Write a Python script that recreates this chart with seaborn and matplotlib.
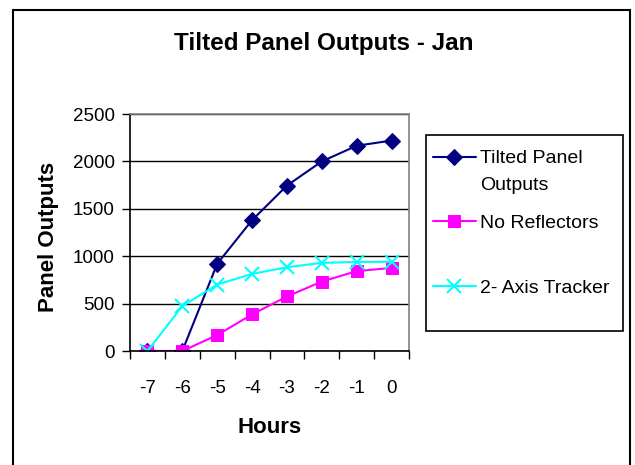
import matplotlib
matplotlib.use("Agg")
import matplotlib.pyplot as plt
from matplotlib.patches import Rectangle
from matplotlib.ticker import FixedLocator
import seaborn as sns
import pandas as pd

hours = [-7, -6, -5, -4, -3, -2, -1, 0]
tilted_panel = [0, 0, 920, 1380, 1745, 2000, 2165, 2220]
no_reflectors = [0, 0, 168, 386, 575, 733, 842, 877]
axis_tracker = [0, 473, 701, 813, 884, 929, 940, 940]
series_names = ["Tilted Panel Outputs", "No Reflectors", "2- Axis Tracker"]
y_ticks = [0, 500, 1000, 1500, 2000, 2500]

df = pd.DataFrame({
    "Hours": hours * 3,
    "Output": tilted_panel + no_reflectors + axis_tracker,
    "Series": [series_names[0]] * 8 + [series_names[1]] * 8 + [series_names[2]] * 8,
})

sns.set_theme(style="white")
plt.rcParams["font.family"] = ["Liberation Sans", "DejaVu Sans"]
plt.rcParams["text.color"] = "black"
plt.rcParams["xtick.color"] = "black"
plt.rcParams["ytick.color"] = "black"
plt.rcParams["axes.labelcolor"] = "black"

W, H = 635, 465
fig = plt.figure(figsize=(W / 100, H / 100), dpi=100)
fig.patch.set_facecolor("white")

# outer chart frame
fig.add_artist(Rectangle((13 / W, -0.05), (630 - 13) / W, 1.05 - 10 / H,
                         transform=fig.transFigure, fill=False,
                         edgecolor="black", linewidth=1.5))

ax = fig.add_axes([130 / W, 1 - 351 / H, (409 - 130) / W, (351 - 114) / H])

styles = {
    series_names[0]: dict(color="#000080", marker="D", markersize=8, markeredgecolor="#000080"),
    series_names[1]: dict(color="#FF00FF", marker="s", markersize=9, markeredgecolor="#FF00FF"),
    series_names[2]: dict(color="#00FFFF", marker="x", markersize=10, markeredgewidth=1.5,
                          markeredgecolor="#00FFFF"),
}
for name in series_names:
    sns.lineplot(data=df[df.Series == name], x="Hours", y="Output",
                 linewidth=1.5, ax=ax, label=name, **styles[name])

ax.set_xlim(-7.5, 0.5)
ax.set_ylim(0, 2500)
ax.set_yticks(y_ticks)
ax.set_yticklabels([str(v) for v in y_ticks], fontsize=13.5, color="black")
ax.set_xticks(hours)
ax.set_xticklabels([str(h) for h in hours], fontsize=13.5, color="black")
ax.xaxis.set_minor_locator(FixedLocator([h - 0.5 for h in hours] + [0.5]))
ax.tick_params(axis="x", which="major", length=0, pad=21, labelcolor="black")
ax.tick_params(axis="x", which="minor", length=6, width=1, color="black", direction="out", bottom=True)
ax.tick_params(axis="y", which="major", length=6, width=1, color="black", direction="out",
               left=True, pad=5, labelcolor="black")

ax.grid(axis="y", color="black", linewidth=1)
ax.grid(axis="x", visible=False)
ax.set_axisbelow(True)
for side in ["top", "right"]:
    ax.spines[side].set_color("#808080")
    ax.spines[side].set_linewidth(1.2)
for side in ["left", "bottom"]:
    ax.spines[side].set_color("black")
    ax.spines[side].set_linewidth(1.2)

ax.set_xlabel("")
ax.set_ylabel("")
fig.text(49 / W, 1 - 237 / H, "Panel Outputs", rotation=90, ha="center", va="center",
         fontsize=16, fontweight="bold", color="black")
fig.text(270 / W, 1 - 427 / H, "Hours", ha="center", va="center",
         fontsize=16, fontweight="bold", color="black")
fig.text(324 / W, 1 - 43 / H, "Tilted Panel Outputs - Jan", ha="center", va="center",
         fontsize=17.5, fontweight="bold", color="black")

# legend: first label wraps onto a second line under its first line
handles, labels = ax.get_legend_handles_labels()
ax.get_legend().remove()
labels = ["Tilted Panel" if l == series_names[0] else l for l in labels]
fig.add_artist(Rectangle((426 / W, 1 - 331 / H), (623 - 426) / W, (331 - 135) / H,
                         transform=fig.transFigure, fill=False,
                         edgecolor="black", linewidth=1.2))
leg = fig.legend(handles, labels, loc="upper left",
                 bbox_to_anchor=(426 / W, 1 - 143 / H),
                 frameon=False, fontsize=14, labelcolor="black",
                 handlelength=2.2, handletextpad=0.25, labelspacing=2.43,
                 borderaxespad=0, borderpad=0.35)

fig.canvas.draw()
first = leg.get_texts()[0].get_window_extent()
fig.text(first.x0 / W, (first.y0 - 27) / H, "Outputs", fontsize=14,
         ha="left", va="bottom", color="black")

fig.savefig("out.png", dpi=100, facecolor="white")
